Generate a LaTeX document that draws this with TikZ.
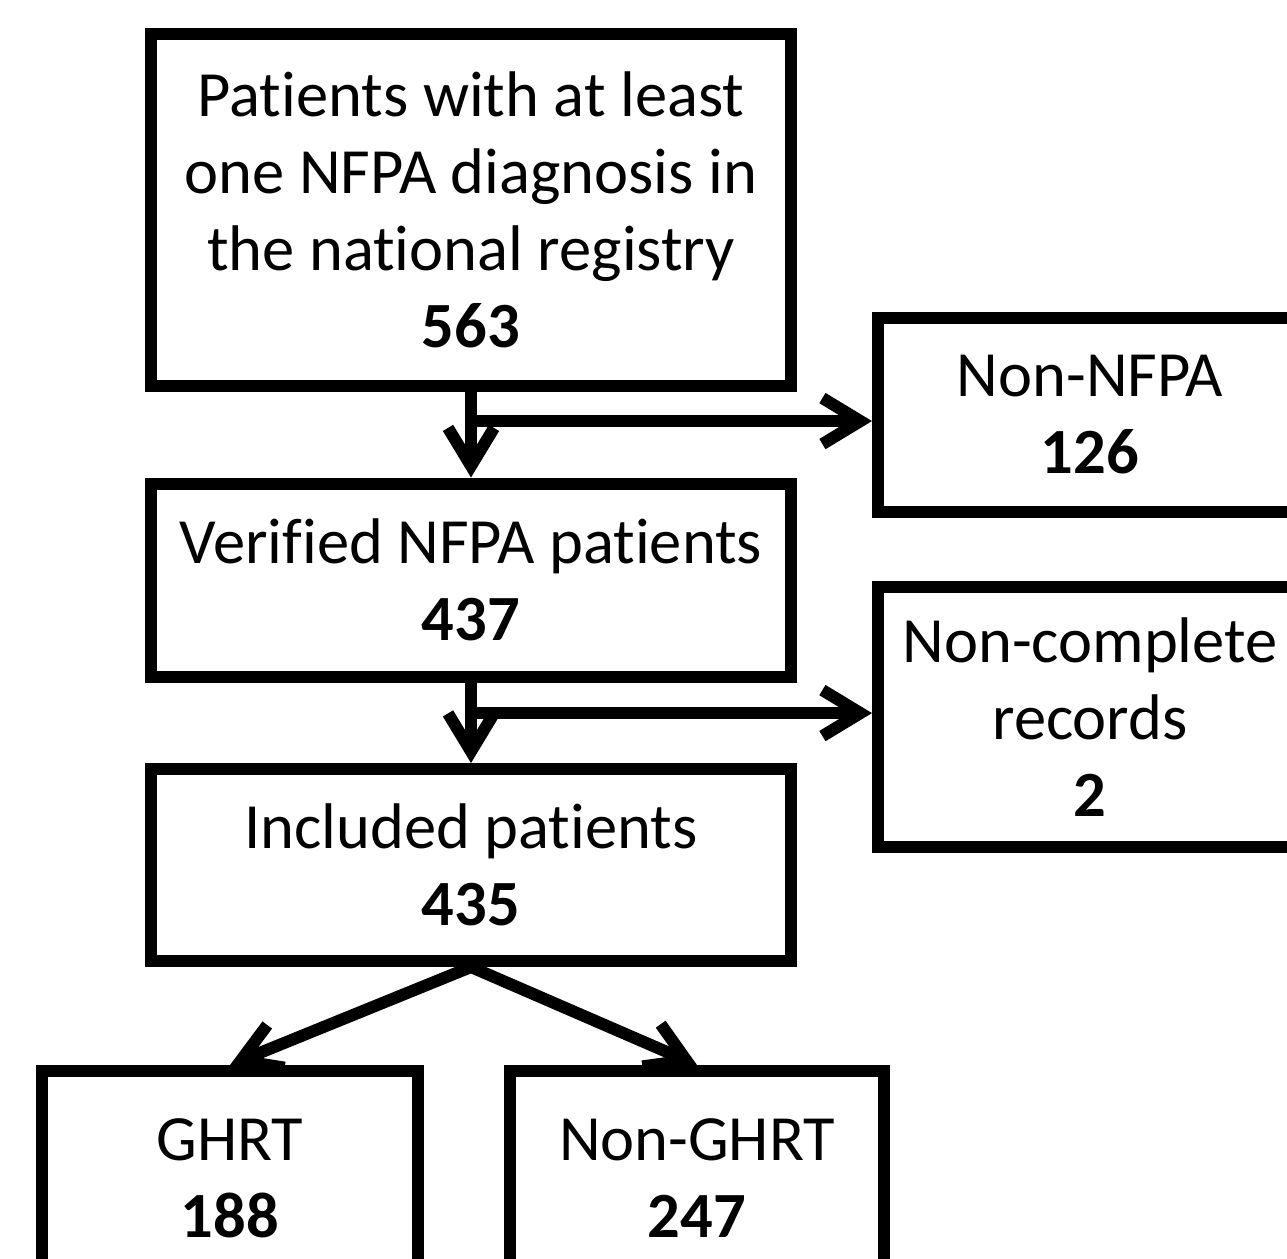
\documentclass[tikz,border=0pt]{standalone}
\usepackage{fontspec}
\setmainfont{Carlito}[Ligatures={NoCommon,NoContextual,NoRare}]
\usetikzlibrary{arrows.meta, calc, positioning}

\tikzset{
  box/.style={draw, line width=12pt, rectangle, align=center, inner sep=0pt,
    font=\fontsize{64.5}{77}\selectfont},
  arr/.style={line width=12pt, -{Straight Barb[length=38pt, width=46pt]}},
}

\begin{document}
\begin{tikzpicture}[x=1pt, y=-1pt]
\useasboundingbox (0,0) rectangle (1287,1258);
\clip (0,0) rectangle (1287,1258);
% boxes of the flow chart
\node[box, minimum width=640, minimum height=352] (reg) at (471,210)
  {Patients with at least\\ one NFPA diagnosis in\\ the national registry\\ \textbf{563}};
\node[box, minimum width=640, minimum height=193] (ver) at (471,580)
  {Verified NFPA patients\\ \textbf{437}};
\node[box, minimum width=640, minimum height=192] (inc) at (471,865)
  {Included patients\\ \textbf{435}};
\node[box, minimum width=424, minimum height=194] (nonnfpa) at (1090,415)
  {Non-NFPA\\ \textbf{126}};
\node[box, minimum width=424, minimum height=260] (noncompl) at (1090,717)
  {Non-complete\\ records\\ \textbf{2}};
\node[box, minimum width=376, minimum height=214] (ghrt) at (230,1178)
  {GHRT\\ \textbf{188}};
\node[box, minimum width=374, minimum height=214] (nonghrt) at (697,1178)
  {Non-GHRT\\ \textbf{247}};
% branch points
\coordinate (b1) at ($(reg.south)!0.34!(ver.north)$);
\coordinate (b2) at ($(ver.south)!0.38!(inc.north)$);
% connectors
\draw[arr] (reg.south) -- (ver.north);
\draw[arr] (b1) -- (b1 -| nonnfpa.west);
\draw[arr] (ver.south) -- (inc.north);
\draw[arr] (b2) -- (b2 -| noncompl.west);
\draw[arr] (inc.south) -- (ghrt.north);
\draw[arr] (inc.south) -- (nonghrt.north);
\end{tikzpicture}
\end{document}
